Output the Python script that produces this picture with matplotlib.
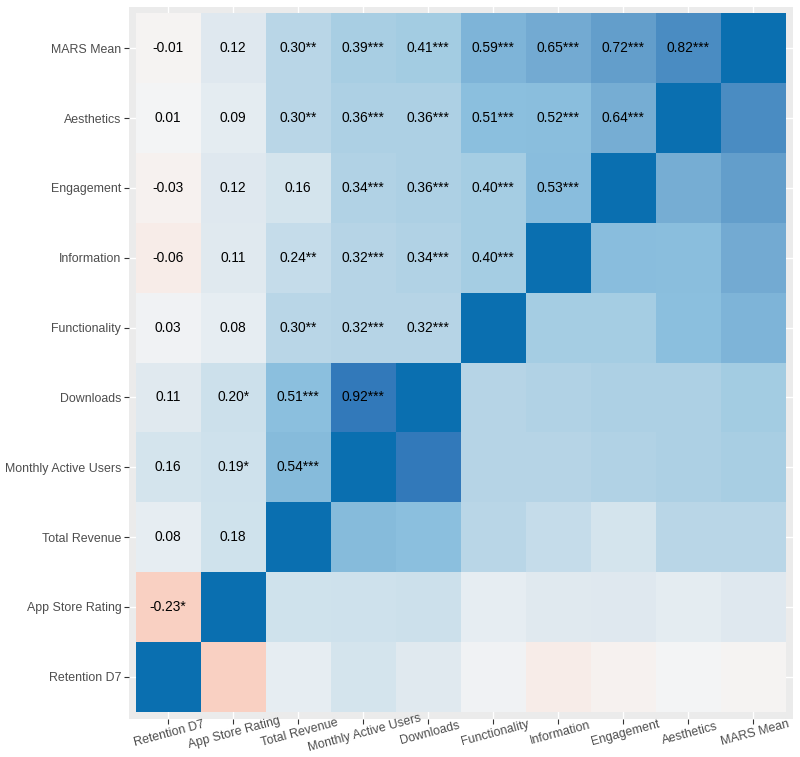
import matplotlib
matplotlib.use("Agg")
import matplotlib.pyplot as plt
import numpy as np
from matplotlib.colors import LinearSegmentedColormap, Normalize

plt.rcParams['font.family'] = ['Liberation Sans', 'DejaVu Sans']

# variables, bottom-to-top on y and left-to-right on x
labels = ['Retention D7', 'App Store Rating', 'Total Revenue', 'Monthly Active Users',
          'Downloads', 'Functionality', 'Information', 'Engagement', 'Aesthetics',
          'MARS Mean']

# lower triangle of the correlation matrix (row i, columns j < i)
lower = [
    [],
    [-0.23],
    [0.08, 0.18],
    [0.16, 0.19, 0.54],
    [0.11, 0.20, 0.51, 0.92],
    [0.03, 0.08, 0.30, 0.32, 0.32],
    [-0.06, 0.11, 0.24, 0.32, 0.34, 0.40],
    [-0.03, 0.12, 0.16, 0.34, 0.36, 0.40, 0.53],
    [0.01, 0.09, 0.30, 0.36, 0.36, 0.51, 0.52, 0.64],
    [-0.01, 0.12, 0.30, 0.39, 0.41, 0.59, 0.65, 0.72, 0.82],
]

stars = [
    [],
    ['*'],
    ['', ''],
    ['', '*', '***'],
    ['', '*', '***', '***'],
    ['', '', '**', '***', '***'],
    ['', '', '**', '***', '***', '***'],
    ['', '', '', '***', '***', '***', '***'],
    ['', '', '**', '***', '***', '***', '***', '***'],
    ['', '', '**', '***', '***', '***', '***', '***', '***'],
]

n = len(labels)
corr = np.eye(n)
for i, row in enumerate(lower):
    for j, v in enumerate(row):
        corr[i, j] = v
        corr[j, i] = v

# colour ramp
anchors = [(-1.0, '#B2182B'), (-0.23, '#F9D0C2'), (-0.06, '#F7ECE8'), (0.0, '#F5F5F5'),
           (0.08, '#E6EDF2'), (0.12, '#DFE8EF'), (0.16, '#D4E4ED'), (0.30, '#B9D6E7'),
           (0.40, '#A6CDE3'), (0.51, '#8CC0DE'), (0.59, '#7EB4D8'), (0.65, '#74ABD2'),
           (0.72, '#649FCB'), (0.82, '#4A8CC2'), (0.92, '#3379BA'), (1.0, '#0A6FB0')]
cmap = LinearSegmentedColormap.from_list('corr', [((v + 1) / 2, c) for v, c in anchors])

fig = plt.figure(figsize=(8, 7.57), dpi=100)
ax = fig.add_axes([129 / 800, 1 - 718.5 / 757, 663.5 / 800, 712 / 757])
ax.set_facecolor('#EBEBEB')

edges = np.arange(n + 1) - 0.5
ax.pcolormesh(edges, edges, corr, cmap=cmap, norm=Normalize(-1, 1), zorder=2)

for i, row in enumerate(lower):
    for j, v in enumerate(row):
        ax.text(j, i, f'{v:.2f}{stars[i][j]}', ha='center', va='center',
                fontsize=9.9, color='black', zorder=3)

ax.set_xlim(-0.6, n - 0.4)
ax.set_ylim(-0.6, n - 0.4)
ax.set_xticks(range(n))
ax.set_yticks(range(n))
ax.set_xticklabels(labels, rotation=15, ha='center', va='top', rotation_mode='anchor')
ax.set_yticklabels(labels)
ax.tick_params(colors='#333333', labelcolor='#4D4D4D', labelsize=8.9, length=3.5, width=0.8,
               pad=2)
ax.tick_params(axis='x', pad=3)
ax.grid(color='white', linewidth=1.0, zorder=1)
ax.set_axisbelow(True)
for s in ax.spines.values():
    s.set_visible(False)

fig.savefig('out.png', dpi=100)
